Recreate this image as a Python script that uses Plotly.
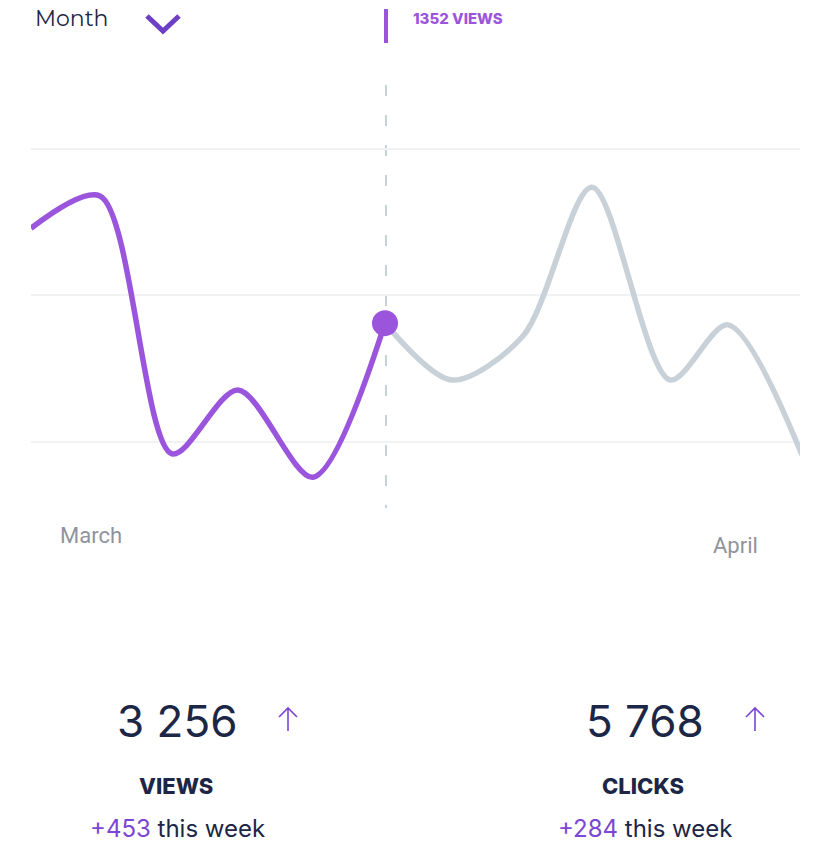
import plotly.graph_objects as go

# ---- data ----
x_pos = [0, 69, 141, 207, 282, 354, 421, 492, 561, 639, 697, 771]
views = [1514, 1569, 1129, 1238, 1089, 1352, 1255, 1330, 1584, 1255, 1349, 1127]
highlight_index = 5
grid_vals = [1150, 1400, 1650]
month_labels = ["March", "April"]
stat_values = ["3 256", "5 768"]
stat_names = ["VIEWS", "CLICKS"]
stat_deltas = ["+453", "+284"]

PURPLE = "#9b55dd"
GRAY = "#c9d1d8"
DARK = "#1c2646"
ARROW = "#7b45d5"

W, H = 822, 864
ML, MR, MT, MB = 31, 22, 60, 344
PW = W - ML - MR
PH = H - MT - MB


def pxx(px):
    return (px - ML) / PW


def pxy(py):
    return (H - MB - py) / PH


fig = go.Figure()
hi = highlight_index
fig.add_trace(go.Scatter(x=x_pos[hi:], y=views[hi:], mode="lines",
                         line=dict(color=GRAY, width=5.5, shape="spline", smoothing=0.85),
                         hoverinfo="skip", showlegend=False, cliponaxis=False))
fig.add_trace(go.Scatter(x=x_pos[:hi + 1], y=views[:hi + 1], mode="lines",
                         line=dict(color=PURPLE, width=5.5, shape="spline", smoothing=0.85),
                         hoverinfo="skip", showlegend=False, cliponaxis=False))
fig.add_trace(go.Scatter(x=[x_pos[hi]], y=[views[hi]], mode="markers",
                         marker=dict(color=PURPLE, size=26),
                         hoverinfo="skip", showlegend=False, cliponaxis=False))

shapes = []
# dashed vertical guide
shapes.append(dict(type="line", xref="x", yref="paper", x0=x_pos[hi] + 1, x1=x_pos[hi] + 1,
                   y0=pxy(85), y1=pxy(508), line=dict(color="#c8d0d8", width=2, dash="11px,19px"),
                   layer="below"))
# purple bar for the tooltip
shapes.append(dict(type="line", xref="x", yref="paper", x0=x_pos[hi] + 1, x1=x_pos[hi] + 1,
                   y0=pxy(43), y1=pxy(9), line=dict(color=PURPLE, width=4)))
# chevron next to "Month"
x0, x1, x2 = pxx(147), pxx(163), pxx(179)
ya, yb = pxy(16), pxy(31)
shapes.append(dict(type="path", xref="paper", yref="paper",
                   path=f"M {x0} {ya} L {x1} {yb} L {x2} {ya}",
                   line=dict(color="#6d3fc6", width=5)))

ann = []
ann.append(dict(text="Month", xref="paper", yref="paper", x=pxx(33), y=pxy(18),
                xanchor="left", yanchor="middle", showarrow=False,
                font=dict(family="Montserrat, Inter", size=22, color=DARK)))
ann.append(dict(text=f"{views[hi]} VIEWS", xref="x", yref="paper", x=x_pos[hi], xshift=26,
                y=pxy(19), xanchor="left", yanchor="middle", showarrow=False,
                font=dict(family="Inter", size=15, color=PURPLE, weight=800)))
ann.append(dict(text=month_labels[0], xref="paper", yref="paper", x=pxx(91), y=pxy(535),
                xanchor="center", yanchor="middle", showarrow=False,
                font=dict(family="Roboto", size=22, color="#8f939d")))
ann.append(dict(text=month_labels[1], xref="paper", yref="paper", x=pxx(735), y=pxy(545),
                xanchor="center", yanchor="middle", showarrow=False,
                font=dict(family="Roboto", size=22, color="#8f939d")))

centers = [177, 645]
arrows_x = [288, 755]
name_cx = [176, 643]
for i in range(2):
    ann.append(dict(text=stat_values[i], xref="paper", yref="paper", x=pxx(centers[i]), y=pxy(721),
                    xanchor="center", yanchor="middle", showarrow=False,
                    font=dict(family="Inter", size=44, color=DARK)))
    ax = arrows_x[i]
    shapes.append(dict(type="path", xref="paper", yref="paper",
                       path=f"M {pxx(ax)} {pxy(731)} L {pxx(ax)} {pxy(708)} "
                            f"M {pxx(ax - 9)} {pxy(717)} L {pxx(ax)} {pxy(708)} L {pxx(ax + 9)} {pxy(717)}",
                       line=dict(color=ARROW, width=1.6)))
    ann.append(dict(text=stat_names[i], xref="paper", yref="paper", x=pxx(name_cx[i]),
                    y=pxy(786), xanchor="center", yanchor="middle", showarrow=False,
                    font=dict(family="Inter", size=22, color=DARK, weight=800)))
    ann.append(dict(text=f"<span style='color:{ARROW}'>{stat_deltas[i]}</span> this week",
                    xref="paper", yref="paper", x=pxx(centers[i]), y=pxy(828),
                    xanchor="center", yanchor="middle", showarrow=False,
                    font=dict(family="Inter", size=24, color=DARK)))

y_top = 1400 + (295 - MT) * 250 / 146.5
y_bot = 1400 - (H - MB - 295) * 250 / 146.5

fig.update_layout(
    width=W, height=H, autosize=False,
    margin=dict(l=ML, r=MR, t=MT, b=MB, pad=0),
    paper_bgcolor="white", plot_bgcolor="white",
    xaxis=dict(range=[0, PW], showgrid=False, zeroline=False, showticklabels=False,
               showline=False, fixedrange=True),
    yaxis=dict(range=[y_bot, y_top], tickvals=grid_vals, showgrid=True, gridcolor="#f1f2f4",
               gridwidth=2, zeroline=False, showticklabels=False, showline=False, fixedrange=True),
    shapes=shapes, annotations=ann, hovermode=False,
)

fig.write_html("out.html", config={"displayModeBar": False})
